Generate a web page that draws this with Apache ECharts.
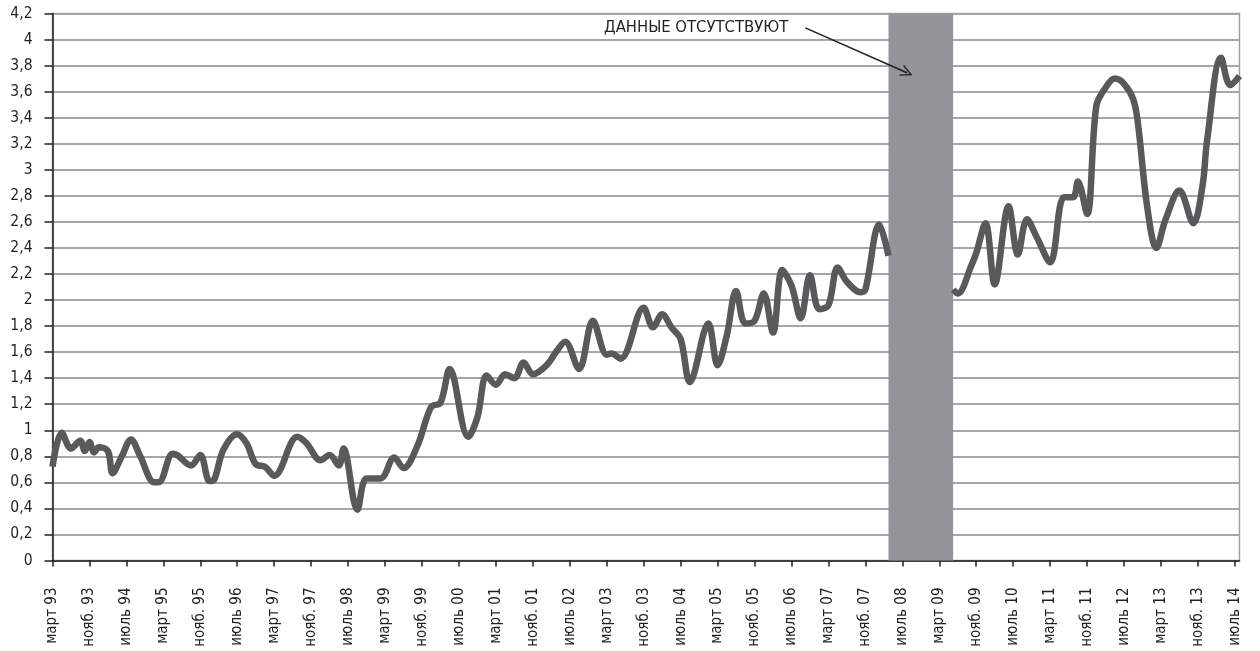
<!DOCTYPE html>
<html>
<head>
<meta charset="utf-8">
<script src="https://cdn.jsdelivr.net/npm/echarts@6/dist/echarts.min.js"></script>
<style>
html,body{margin:0;padding:0;background:#fff;}
#chart{width:1260px;height:651px;}
</style>
</head>
<body>
<div id="chart"></div>
<script>
// Month names used to build monthly category labels (март 93 .. авг. 14)
const monthNames = ['янв.', 'февр.', 'март', 'апр.', 'май', 'июнь', 'июль', 'авг.', 'сент.', 'окт.', 'нояб.', 'дек.'];
const startYear = 1993, startMonth = 2, monthCount = 258;
const categories = [];
for (let k = 0; k < monthCount; k++) {
  const m = (startMonth + k) % 12;
  const y = startYear + Math.floor((startMonth + k) / 12);
  categories.push(monthNames[m] + ' ' + String(y % 100).padStart(2, '0'));
}

// Segment before the data gap: month index and value
const seg1Months = [0, 2, 4, 6, 7, 8, 9, 10, 12, 13, 15, 17, 19, 22, 23, 26, 27, 30, 32, 34, 35, 37, 40, 42, 44, 46, 48, 53, 55, 58, 60, 62, 63, 66, 68, 71, 74, 76, 79, 82, 84, 86, 90, 92, 94, 96, 98, 100, 102, 104, 107, 109, 111, 114, 117, 120, 121, 123, 128, 130, 132, 134, 136, 138, 142, 144, 146, 148, 150, 152, 154, 156, 158, 160, 162, 164, 166, 168, 170, 172, 175, 176, 179, 181];
const seg1Values = [0.72, 0.98, 0.86, 0.92, 0.84, 0.91, 0.83, 0.87, 0.84, 0.67, 0.80, 0.93, 0.80, 0.60, 0.60, 0.82, 0.81, 0.73, 0.81, 0.61, 0.62, 0.85, 0.97, 0.90, 0.74, 0.72, 0.65, 0.95, 0.90, 0.77, 0.81, 0.73, 0.86, 0.39, 0.63, 0.63, 0.79, 0.71, 0.88, 1.18, 1.21, 1.47, 0.95, 1.10, 1.42, 1.35, 1.43, 1.40, 1.52, 1.43, 1.50, 1.60, 1.68, 1.47, 1.84, 1.58, 1.59, 1.55, 1.94, 1.79, 1.89, 1.79, 1.70, 1.37, 1.82, 1.50, 1.73, 2.07, 1.82, 1.84, 2.05, 1.75, 2.23, 2.11, 1.86, 2.19, 1.93, 1.96, 2.25, 2.14, 2.06, 2.08, 2.58, 2.34];

// Segment after the data gap
const seg2Months = [195, 196, 199, 200, 202, 204, 207, 209, 211, 213, 216, 219, 221, 222, 224, 226, 228, 230, 232, 234, 235, 237, 239, 241, 244, 247, 249, 250, 253, 255, 257];
const seg2Values = [2.08, 2.05, 2.27, 2.36, 2.59, 2.12, 2.72, 2.35, 2.62, 2.49, 2.29, 2.79, 2.79, 2.91, 2.66, 3.49, 3.63, 3.70, 3.66, 3.54, 3.36, 2.72, 2.40, 2.62, 2.84, 2.59, 2.88, 3.23, 3.86, 3.65, 3.72];

// Missing-data band (month indices) and annotation
const gapStart = 181.4, gapEnd = 195.1;
const noteText = 'ДАННЫЕ ОТСУТСТВУЮТ';
const arrowFrom = [162.9, 4.09], arrowTo = [185, 3.745];

const FONT = '"Liberation Sans Narrow", "DejaVu Sans Condensed", "Roboto Condensed", "Arial Narrow", sans-serif';

const pair = (ms, vs) => ms.map((m, k) => [m, vs[k]]);

const chart = echarts.init(document.getElementById('chart'), null, {renderer: 'canvas'});
chart.setOption({
  animation: false,
  backgroundColor: '#ffffff',
  grid: {left: 52.5, right: 20.5, top: 13.5, bottom: 90.5, show: true, borderColor: '#9c9ea1', borderWidth: 1.5, backgroundColor: 'transparent'},
  xAxis: {
    type: 'category',
    data: categories,
    boundaryGap: false,
    axisLine: {lineStyle: {color: '#231f20', width: 1.5}},
    axisTick: {show: true, interval: 7, length: 6, lineStyle: {color: '#231f20', width: 1.5}},
    axisLabel: {interval: 7, rotate: 90, margin: 27, fontSize: 15, color: '#231f20', fontFamily: FONT},
    splitLine: {show: false}
  },
  yAxis: {
    type: 'value',
    min: 0, max: 4.2, interval: 0.2,
    axisLine: {show: true, lineStyle: {color: '#231f20', width: 1.5}},
    axisTick: {show: true, length: 8, lineStyle: {color: '#231f20', width: 1.5}},
    axisLabel: {
      fontSize: 15.5, color: '#231f20', fontFamily: FONT, margin: 20,
      formatter: v => String(Math.round(v * 10) / 10).replace('.', ',')
    },
    splitLine: {lineStyle: {color: '#a4a6a9', width: 2}}
  },
  series: [
    {
      type: 'line', data: pair(seg1Months, seg1Values),
      smooth: 0.35, symbol: 'none', z: 3,
      lineStyle: {color: '#58595b', width: 6.5}
    },
    {
      type: 'line', data: pair(seg2Months, seg2Values),
      smooth: 0.35, symbol: 'none', z: 3,
      lineStyle: {color: '#58595b', width: 6.5}
    },
    {
      type: 'line', data: [], z: 5,
      markArea: {
        silent: true,
        itemStyle: {color: '#939598', opacity: 1},
        data: [[{xAxis: gapStart}, {xAxis: gapEnd}]]
      },
      markLine: {
        silent: true,
        symbol: ['none', 'path://M0,12 L6,0 L12,12 L10.5,12 L6,3 L1.5,12 Z'],
        symbolSize: [12, 12],
        lineStyle: {color: '#231f20', width: 1.5, type: 'solid'},
        label: {show: false},
        data: [[{coord: arrowFrom}, {coord: arrowTo}]]
      },
      markPoint: {
        silent: true,
        symbol: 'circle', symbolSize: 0,
        label: {show: true, position: 'left', distance: 17, formatter: noteText, fontSize: 16.5, color: '#231f20', fontFamily: FONT},
        data: [{coord: arrowFrom}]
      }
    }
  ]
});
</script>
</body>
</html>
